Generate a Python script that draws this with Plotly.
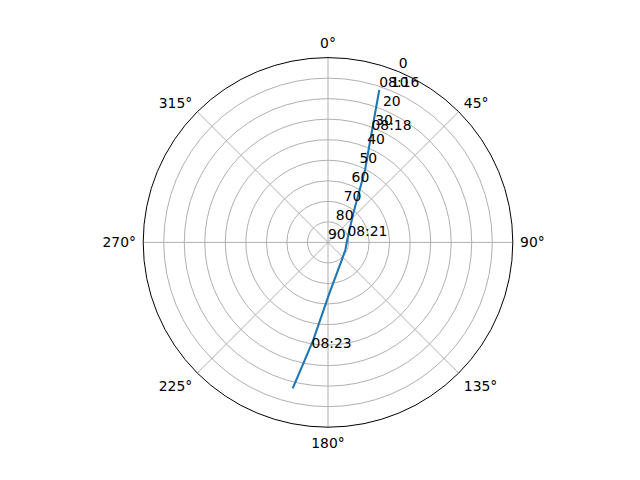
import plotly.graph_objects as go

# pass track: azimuth (deg, clockwise from N) and elevation (deg)
track_az = [18.6, 21.7, 27.1, 41.0, 80.1, 113.7, 142.1, 178.5, 188.6, 193.6]
track_el = [11.7, 32.7, 50.4, 71.2, 80.4, 80.8, 79.1, 65.2, 41.9, 16.9]

# time stamps written along the track
label_text = ["08:16", "08:18", "08:21", "08:23"]
label_az = [18.6, 21.7, 80.1, 188.6]
label_el = [11.7, 32.7, 80.4, 36.5]

angle_ticks = [0, 45, 90, 135, 180, 225, 270, 315]
angle_labels = [f"{a}°" for a in angle_ticks]
elev_ticks = [0, 10, 20, 30, 40, 50, 60, 70, 80, 90]
rlabel_az = 22.5  # where the elevation numbers sit

font = dict(family="DejaVu Sans", size=13.9, color="black")

fig = go.Figure()
fig.add_trace(go.Scatterpolar(
    theta=track_az, r=track_el, mode="lines",
    line=dict(color="#1f77b4", width=2.1), showlegend=False, hoverinfo="skip"))
fig.add_trace(go.Scatterpolar(
    theta=label_az, r=label_el, mode="text", text=label_text,
    textposition="top right", textfont=font, showlegend=False, hoverinfo="skip"))
# elevation tick labels, bottom-left anchored on their ring like matplotlib
fig.add_trace(go.Scatterpolar(
    theta=[rlabel_az] * len(elev_ticks), r=elev_ticks, mode="text",
    text=[str(v) for v in elev_ticks], textposition="top right",
    textfont=font, showlegend=False, hoverinfo="skip", cliponaxis=False))

fig.update_layout(
    width=640, height=480,
    margin=dict(l=0, r=0, t=0, b=0),
    paper_bgcolor="white",
    font=font,
    polar=dict(
        domain=dict(x=[0.125, 0.9], y=[0.11, 0.88]),
        bgcolor="white",
        angularaxis=dict(
            rotation=90, direction="clockwise",
            tickmode="array", tickvals=angle_ticks, ticktext=angle_labels,
            showgrid=True, gridcolor="#b0b0b0", gridwidth=1,
            showline=True, linecolor="black", linewidth=1,
            ticks="outside", ticklen=4, tickcolor="rgba(0,0,0,0)",
            tickfont=font),
        radialaxis=dict(
            range=[90, 0], tickmode="array", tickvals=elev_ticks,
            showline=False, ticks="", showticklabels=False,
            showgrid=True, gridcolor="#b0b0b0", gridwidth=1),
    ),
)

fig.write_html("out.html", config={"displayModeBar": False},
               post_script="document.body.style.margin='0';")
